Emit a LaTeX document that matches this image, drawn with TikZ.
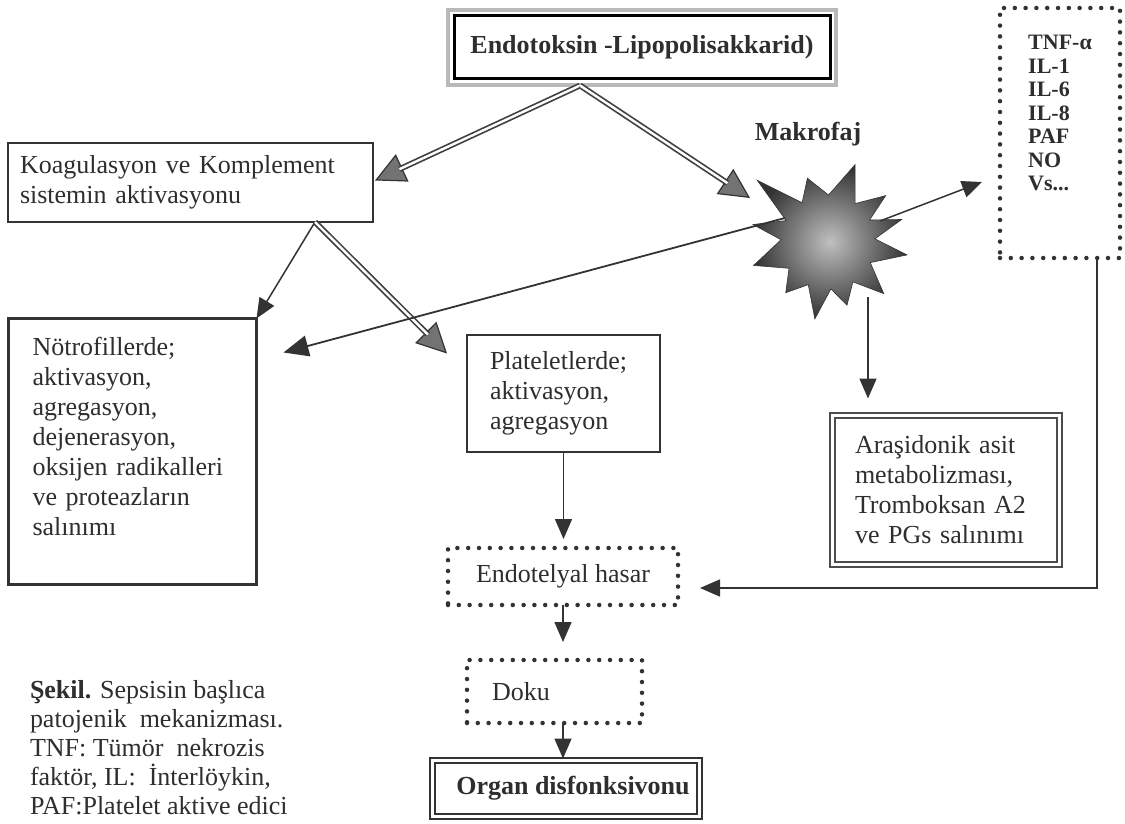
\documentclass[tikz,border=0pt]{standalone}
\usepackage{fontspec}
\setmainfont{Liberation Serif}
\usetikzlibrary{arrows.meta,calc}
\definecolor{ink}{HTML}{2E2E2E}
\definecolor{frm}{HTML}{333333}
\begin{document}
\begin{tikzpicture}[x=1pt,y=-1pt,
  every node/.style={text=ink, inner sep=0pt, outer sep=0pt},
  body/.style={font=\fontsize{26}{30}\selectfont},
  bbody/.style={font=\bfseries\fontsize{26}{30}\selectfont},
  box/.style={draw=frm, line width=1.4pt, body},
  thickbox/.style={draw=frm, line width=3pt, body},
  dotbox/.style={draw=frm, line width=4.5pt, line cap=round, dash pattern=on 0pt off 10.8pt, body},
  dblbox/.style={draw=frm, double=white, line width=2.2pt, double distance=2.5pt},
  grayframe/.style={draw=gray!60!black, double=white, line width=2pt, double distance=3pt},
  arr/.style={draw=frm, line width=1.5pt, -{Triangle[length=20pt,width=17pt]}},
  bigarr/.style={draw=frm, line width=1.8pt, -{Triangle[length=25pt,width=21pt]}},
  dblhead/.style={draw=frm, line width=1.2pt, -{Triangle[length=30pt,width=30pt,fill=black!55]}},
  dblshaft/.style={draw=gray!50!black, double=white, line width=1.7pt, double distance=2.4pt, shorten >=27pt}
]
\fill[white] (0,0) rectangle (1125,824);
\useasboundingbox (0,0) rectangle (1125,824);

% top box
\node[draw=black, line width=3pt, minimum width=376pt, minimum height=63pt, bbody] (top) at (642,47.5) {Endotoksin -Lipopolisakkarid)};
\draw[gray!55, line width=4.5pt] ($(top.north west)+(-6,-6)$) rectangle ($(top.south east)+(6,6)$);

% boxes
\node[box, minimum width=365pt, minimum height=79pt, text width=341pt, align=left] (koag) at (190.5,182.5) {Koagulasyon ve Komplement\\ sistemin aktivasyonu};
\node[thickbox, minimum width=248pt, minimum height=266pt, text width=200pt, align=left] (neut) at (132.5,451.5) {Nötrofillerde;\\ aktivasyon,\\ agregasyon,\\ dejenerasyon,\\ oksijen radikalleri\\ ve proteazların\\ salınımı\\ \mbox{}};
\node[box, minimum width=193pt, minimum height=117pt, text width=147pt, align=left] (plat) at (563.5,393.5) {Plateletlerde;\\ aktivasyon,\\ agregasyon};
\node[grayframe, body, minimum width=227pt, minimum height=149pt, text width=182pt, align=left] (ara) at (946,490) {Araşidonik asit\\ metabolizması,\\ Tromboksan A2\\ ve PGs salınımı};
\node[dotbox, minimum width=230pt, minimum height=57pt] (endo) at (563,576.5) {Endotelyal hasar};
\node[dotbox, minimum width=175pt, minimum height=63pt] (doku) at (554.5,691.5) {Doku\hspace*{67pt}};
\node[dblbox, bbody, minimum width=267pt, minimum height=56pt] (organ) at (566,788.5) {\hspace*{14pt}Organ disfonksivonu};
\node[dotbox, minimum width=120pt, minimum height=250pt, font=\bfseries\fontsize{22}{23.5}\selectfont, align=left] (tnf) at (1060,133) {TNF-α\\ IL-1\\ IL-6\\ IL-8\\ PAF\\ NO\\ Vs...\\[16pt] \mbox{}};

% macrophage
\node[font=\bfseries\fontsize{26}{30}\selectfont] (maklbl) at (808,134) {Makrofaj};
\coordinate (mak) at (828,242);
\begin{scope}[shift={(mak)}]
\shadedraw[inner color=gray!50, outer color=black!80, draw=black!80, line width=0.6pt]
 (138.9:94pt) -- (123.4:47pt) -- (107.9:67pt) -- (89.3:47pt) -- (70.7:82pt) -- (54.8:47pt)
 -- (38.8:74pt) -- (27.9:47pt) -- (17:77pt) -- (3.9:47pt) -- (-9.3:80pt) -- (-26:47pt)
 -- (-42.8:76pt) -- (-58:47pt) -- (-73.3:66pt) -- (-86.5:47pt) -- (-99.7:78pt) -- (-114.8:47pt)
 -- (-129.8:66pt) -- (-146:47pt) -- (-162.5:78pt) -- (177.2:47pt) -- (166.9:77pt) -- (152.9:47pt) -- cycle;
\end{scope}

% caption
\node[font=\fontsize{26}{29}\selectfont, align=left, anchor=north west] (cap) at (30,680)
 {\textbf{Şekil.} Sepsisin başlıca\\ patojenik\ \ mekanizması.\\ TNF: Tümör\ \ nekrozis\\ faktör, IL:\ \ İnterlöykin,\\ PAF:Platelet aktive edici};

% connectors
\coordinate (ts) at ($(top.south)+(-62,6.5)$);
\coordinate (ks) at ($(koag.south)+(124.5,0)$);
\draw[dblhead] (ts) -- ($(koag.east)+(2,-2)$);
\draw[dblshaft] (ts) -- ($(koag.east)+(2,-2)$);
\draw[dblhead] (ts) -- ($(mak)+(-78,-44)$);
\draw[dblshaft] (ts) -- ($(mak)+(-78,-44)$);
\draw[arr] (ks) -- (neut.north east);
\draw[dblhead] (ks) -- ($(plat.west)+(-20,-40)$);
\draw[dblshaft] (ks) -- ($(plat.west)+(-20,-40)$);
\draw[arr] ($(mak)+(52,-21)$) -- ($(tnf.west)+(-18,49)$);
\draw[bigarr] ($(mak)+(-43,-24)$) -- ($(neut.east)+(27,-99)$);
\draw[arr] ($(mak)+(40,55)$) -- ($(ara.north)+(-78,-17)$);
\draw[arr, shorten >=9pt] (plat.south) -- (plat.south |- endo.north);
\draw[arr, shorten >=18pt] (endo.south) -- (endo.south |- doku.north);
\draw[arr, shorten >=2pt] (doku.south -| endo.south) -- (endo.south |- organ.north);
\draw[arr] ($(tnf.south)+(37,0)$) |- ($(endo.east)+(22,11.5)$);
\end{tikzpicture}
\end{document}
